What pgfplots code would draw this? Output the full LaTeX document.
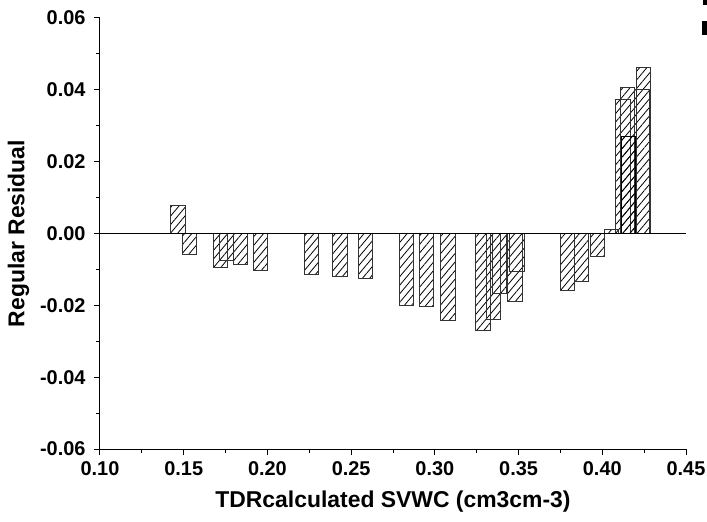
\documentclass[border=0pt]{standalone}
\usepackage{pgfplots}
\pgfplotsset{compat=1.18}
\usepackage{fontspec}
\setmainfont{Liberation Sans}
\usetikzlibrary{patterns.meta}
\begin{document}
\begin{tikzpicture}
\path[use as bounding box] (-100bp,-73bp) rectangle (607bp,449bp);
\begin{axis}[
  at={(0,0)}, anchor=south west,
  width=586bp, height=431bp, scale only axis,
  xmin=0.10, xmax=0.45, ymin=-0.06, ymax=0.06,
  scaled ticks=false,
  axis lines*=left,
  axis line style={line width=1bp},
  tick align=outside,
  major tick length=6bp, minor tick length=3.5bp,
  every tick/.style={black, line width=1bp},
  xtick={0.10,0.15,0.20,0.25,0.30,0.35,0.40,0.45},
  xticklabels={0.10,0.15,0.20,0.25,0.30,0.35,0.40,0.45},
  ytick={-0.06,-0.04,-0.02,0,0.02,0.04,0.06},
  yticklabels={-0.06,-0.04,-0.02,0.00,0.02,0.04,0.06},
  minor x tick num=1, minor y tick num=1,
  tick label style={font=\bfseries\fontsize{20}{22}\selectfont},
  xticklabel style={yshift=-3bp},
  yticklabel style={xshift=-5bp},
  xlabel={TDRcalculated SVWC (cm3cm-3)},
  ylabel={Regular Residual},
  label style={font=\bfseries\fontsize{23}{26}\selectfont},
  xlabel style={yshift=-8bp},
  ylabel style={yshift=4bp},
  clip=false,
]
\addplot[ybar, bar width=0.0087, bar shift=0pt, draw=black!80, line width=1bp,
  pattern={Lines[angle=50, distance=5.5bp, line width=0.8bp]}, pattern color=black]
coordinates {
(0.1466,0.0079) (0.1535,-0.0059) (0.1720,-0.0094) (0.1756,-0.0074)
(0.1838,-0.0087) (0.1959,-0.0103) (0.2262,-0.0113) (0.2434,-0.0120)
(0.2585,-0.0125) (0.2831,-0.0201) (0.2949,-0.0203) (0.3077,-0.0241)
(0.3286,-0.0271) (0.3349,-0.0239) (0.3387,-0.0166) (0.3480,-0.0188)
(0.3489,-0.0107) (0.3793,-0.0160) (0.3877,-0.0134) (0.3971,-0.0064)
(0.4056,0.0011) (0.4124,0.0372) (0.4150,0.0407) (0.4238,0.0401)
(0.4247,0.0462)
};
\addplot[ybar, bar width=0.0087, bar shift=0pt, draw=black, line width=1bp,
  pattern={Lines[angle=50, distance=5.5bp, line width=0.8bp]}, pattern color=black]
coordinates {(0.4156,0.0271)};
\addplot[black, line width=1.5bp] coordinates {(0.10,0) (0.45,0)};
\end{axis}
\fill (603bp,444bp) rectangle (607bp,449bp);
\fill (602bp,414bp) rectangle (607bp,428bp);
\end{tikzpicture}
\end{document}
